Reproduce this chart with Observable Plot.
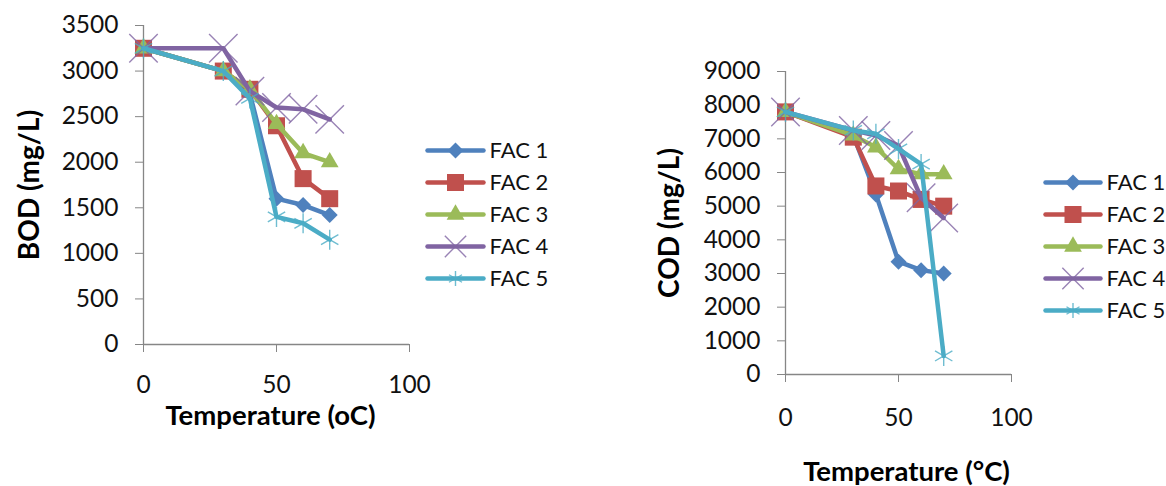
<!DOCTYPE html>
<html>
<head>
<meta charset="utf-8">
<script src="https://cdn.jsdelivr.net/npm/d3@7"></script>
<script src="https://cdn.jsdelivr.net/npm/@observablehq/plot@0.6"></script>
<style>
  html, body { margin: 0; padding: 0; background: #fff; }
  #wrap { position: relative; width: 1166px; height: 486px; overflow: hidden; background: #fff; }
  .pane { position: absolute; top: 0; }
</style>
</head>
<body>
<div id="wrap"></div>
<script>
// ---------- data ----------
const temps = [0, 30, 40, 50, 60, 70];
const seriesNames = ["FAC 1", "FAC 2", "FAC 3", "FAC 4", "FAC 5"];
const seriesColors = ["#4F81BD", "#C0504D", "#9BBB59", "#8064A2", "#4BACC6"];
const seriesSymbols = ["diamond2", "square", "triangle", "times", "asterisk"];

// BOD (mg/L)
const bodFac1 = [3250, 3000, 2750, 1600, 1530, 1420];
const bodFac2 = [3250, 3000, 2800, 2400, 1820, 1600];
const bodFac3 = [3250, 3000, 2800, 2420, 2100, 2000];
const bodFac4 = [3250, 3250, 2780, 2600, 2580, 2470];
const bodFac5 = [3250, 3000, 2700, 1400, 1330, 1150];

// COD (mg/L)
const codFac1 = [7800, 7100, 5350, 3350, 3100, 3000];
const codFac2 = [7800, 7050, 5600, 5450, 5200, 5000];
const codFac3 = [7800, 7100, 6750, 6100, 5950, 5950];
const codFac4 = [7800, 7250, 7100, 6800, 5250, 4650];
const codFac5 = [7800, 7250, 7150, 6700, 6250, 550];

const xTicks = [0, 50, 100];
const bodTicks = [0, 500, 1000, 1500, 2000, 2500, 3000, 3500];
const codTicks = [0, 1000, 2000, 3000, 4000, 5000, 6000, 7000, 8000, 9000];

// ---------- helpers ----------
const FONT = "Lato, 'Open Sans', sans-serif";
const AXIS = "#868686";
const MARK_R = [7.2, 9.6, 6.6, 13, 9.5];

function rows(seriesValues) {
  return seriesValues.map((vals, i) => temps.map((t, j) => ({series: seriesNames[i], idx: i, t, v: vals[j]})));
}

function dotOptions(i, base, rScale = 1) {
  const r = MARK_R[i] * rScale;
  return i < 3
    ? {...base, symbol: () => seriesSymbols[i], r, fill: seriesColors[i], stroke: "none"}
    : {...base, symbol: () => seriesSymbols[i], r, fill: "none", stroke: seriesColors[i], strokeWidth: 1.4, strokeOpacity: 0.8};
}

function seriesMarks(data) {
  const marks = [];
  data.forEach((d, i) => {
    marks.push(Plot.line(d, {x: "t", y: "v", stroke: seriesColors[i], strokeWidth: 4.5, strokeLinejoin: "round", strokeLinecap: "round"}));
    marks.push(Plot.dot(d, dotOptions(i, {x: "t", y: "v"})));
  });
  return marks;
}

function chart({width, height, mL, mR, mT, mB, yTicks, yMax, data, yLabel, xLabel, xLabelDx, xLabelDy, yLabelDx, xTickPad}) {
  return Plot.plot({
    width, height,
    marginLeft: mL, marginRight: mR, marginTop: mT, marginBottom: mB,
    style: {fontFamily: FONT, fontSize: "24.5px", color: "#111", background: "transparent", overflow: "visible"},
    x: {domain: [0, 100]},
    y: {domain: [0, yMax]},
    marks: [
      Plot.ruleY([0], {stroke: AXIS, strokeWidth: 1.3}),
      Plot.ruleX([0], {stroke: AXIS, strokeWidth: 1.3}),
      Plot.axisY({ticks: yTicks, tickSize: 8, tickPadding: 17, stroke: AXIS, fill: "#111", fontSize: 24.5, label: null, tickFormat: d => String(d)}),
      Plot.axisX({ticks: xTicks, tickSize: 8, tickPadding: xTickPad, stroke: AXIS, fill: "#111", fontSize: 24.5, label: null, tickFormat: d => String(d)}),
      ...seriesMarks(data),
      Plot.text([yLabel], {frameAnchor: "left", rotate: -90, dx: yLabelDx, textAnchor: "middle", lineAnchor: "middle", fontWeight: "bold", fontSize: 28, fill: "#000"}),
      Plot.text([xLabel], {frameAnchor: "bottom", dx: xLabelDx, dy: xLabelDy, textAnchor: "middle", lineAnchor: "middle", fontWeight: "bold", fontSize: 27.5, fill: "#000"})
    ]
  });
}

function legend({width, height, xRange, yRange}) {
  const items = seriesNames.map((s, i) => ({s, i}));
  const marks = [];
  items.forEach(({s, i}) => {
    marks.push(Plot.link([{s}], {x1: () => 0, x2: () => 1, y1: "s", y2: "s", stroke: seriesColors[i], strokeWidth: 4.5, strokeLinecap: "round"}));
    marks.push(Plot.dot([{s}], dotOptions(i, {x: () => 0.5, y: "s"}, i < 3 ? 1 : 0.75)));
  });
  marks.push(Plot.text(items, {x: () => 1, y: "s", text: "s", dx: 6, textAnchor: "start", lineAnchor: "middle", fill: "#111", fontSize: 22}));
  return Plot.plot({
    width, height, margin: 0,
    style: {fontFamily: FONT, fontSize: "22px", background: "transparent", overflow: "visible"},
    x: {domain: [0, 1], range: xRange, axis: null},
    y: {type: "point", domain: seriesNames, range: yRange, padding: 0, axis: null},
    marks
  });
}

function place(node, left, width) {
  const div = document.createElement("div");
  div.className = "pane";
  div.style.left = left + "px";
  div.style.width = width + "px";
  div.appendChild(node);
  document.getElementById("wrap").appendChild(div);
}

// ---------- left chart (BOD) ----------
place(chart({
  width: 420, height: 486, mL: 143, mR: 11, mT: 25, mB: 142,
  yTicks: bodTicks, yMax: 3500,
  data: rows([bodFac1, bodFac2, bodFac3, bodFac4, bodFac5]),
  yLabel: "BOD (mg/L)", xLabel: "Temperature (oC)", xLabelDx: -6, xLabelDy: 72, yLabelDx: -113, xTickPad: 23
}), 0, 420);

place(legend({width: 180, height: 486, xRange: [27, 83], yRange: [148, 279]}), 400, 180);

// ---------- right chart (COD) ----------
place(chart({
  width: 420, height: 486, mL: 185, mR: 9, mT: 71, mB: 112,
  yTicks: codTicks, yMax: 9000,
  data: rows([codFac1, codFac2, codFac3, codFac4, codFac5]),
  yLabel: "COD (mg/L)", xLabel: "Temperature (°C)", xLabelDx: 8, xLabelDy: 98, yLabelDx: -115, xTickPad: 26
}), 600, 420);

place(legend({width: 146, height: 486, xRange: [25, 80], yRange: [181, 311]}), 1020, 146);
</script>
</body>
</html>
